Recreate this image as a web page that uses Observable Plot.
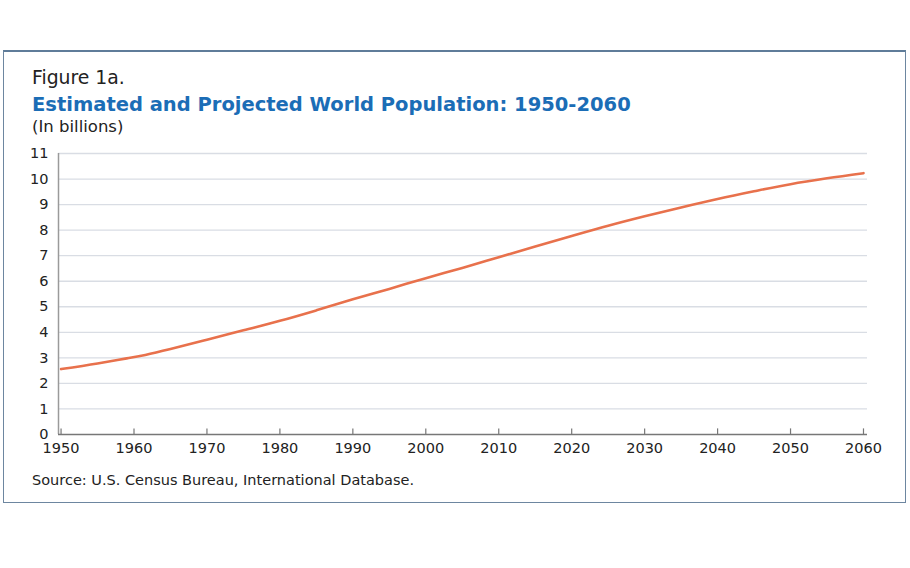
<!DOCTYPE html>
<html>
<head>
<meta charset="utf-8">
<script src="https://cdn.jsdelivr.net/npm/d3@7"></script>
<script src="https://cdn.jsdelivr.net/npm/@observablehq/plot@0.6"></script>
<style>
  html, body { margin: 0; padding: 0; background: #fff; width: 910px; height: 568px; overflow: hidden; }
  body { position: relative; font-family: "DejaVu Sans", sans-serif; color: #222; }
  .frame { position: absolute; left: 3px; top: 50px; width: 901px; height: 450px;
           border: 1.5px solid #6d86a0; border-top: 2.5px solid #5f7c99; }
  .t { position: absolute; left: 32px; white-space: nowrap; line-height: 1; }
  #fig { top: 69px; font-size: 18.8px; color: #222; }
  #title { top: 95px; font-size: 19.5px; font-weight: bold; color: #1b6db6; }
  #unit { top: 119px; font-size: 16.5px; color: #222; }
  #source { top: 473px; font-size: 14.5px; color: #222; }
  #chart { position: absolute; left: 0; top: 140px; }
</style>
</head>
<body>
<div class="frame"></div>
<div class="t" id="fig">Figure 1a.</div>
<div class="t" id="title">Estimated and Projected World Population: 1950-2060</div>
<div class="t" id="unit">(In billions)</div>
<div id="chart"></div>
<div class="t" id="source">Source: U.S. Census Bureau, International Database.</div>
<script>
const years = [1950, 1955, 1959, 1961, 1965, 1970, 1975, 1980, 1985, 1990, 1995, 2000, 2005, 2010, 2015, 2020, 2025, 2030, 2035, 2040, 2045, 2050, 2055, 2060];
const population = [2.56, 2.78, 2.98, 3.08, 3.35, 3.71, 4.08, 4.45, 4.86, 5.29, 5.70, 6.12, 6.52, 6.94, 7.36, 7.77, 8.17, 8.54, 8.89, 9.22, 9.52, 9.80, 10.03, 10.23];
const xTicks = [1950, 1960, 1970, 1980, 1990, 2000, 2010, 2020, 2030, 2040, 2050, 2060];
const yTicks = [0, 1, 2, 3, 4, 5, 6, 7, 8, 9, 10, 11];

const data = years.map((y, i) => ({year: y, value: population[i]}));

const chart = Plot.plot({
  width: 910,
  height: 320,
  marginLeft: 58,
  marginRight: 43,
  marginTop: 13,
  marginBottom: 26,
  style: {fontFamily: "DejaVu Sans, sans-serif", fontSize: "14.5px", color: "#222", background: "transparent"},
  x: {domain: [1949.65, 2060.55]},
  y: {domain: [0, 11]},
  marks: [
    Plot.gridY(yTicks.filter(d => d > 0), {stroke: "#d9dde4", strokeOpacity: 1, strokeWidth: 1.3}),
    Plot.axisY(yTicks, {tickSize: 0, tickPadding: 10, label: null, fill: "#222"}),
    Plot.axisX(xTicks, {tickSize: 0, tickPadding: 8, label: null, tickFormat: d => String(d), fill: "#222"}),
    Plot.ruleX([0], {x: () => 1949.65, y1: 0, y2: 11, stroke: "#9a9a9a", strokeWidth: 1.5}),
    Plot.ruleX(xTicks, {x: d => d, y1: 0, y2: 0.22, stroke: "#777", strokeWidth: 1.2}),
    Plot.ruleY([0], {stroke: "#777", strokeWidth: 1.5}),
    Plot.line(data, {x: "year", y: "value", curve: "monotone-x", stroke: "#e8714c", strokeWidth: 2.6})
  ]
});
document.getElementById("chart").appendChild(chart);
</script>
</body>
</html>
